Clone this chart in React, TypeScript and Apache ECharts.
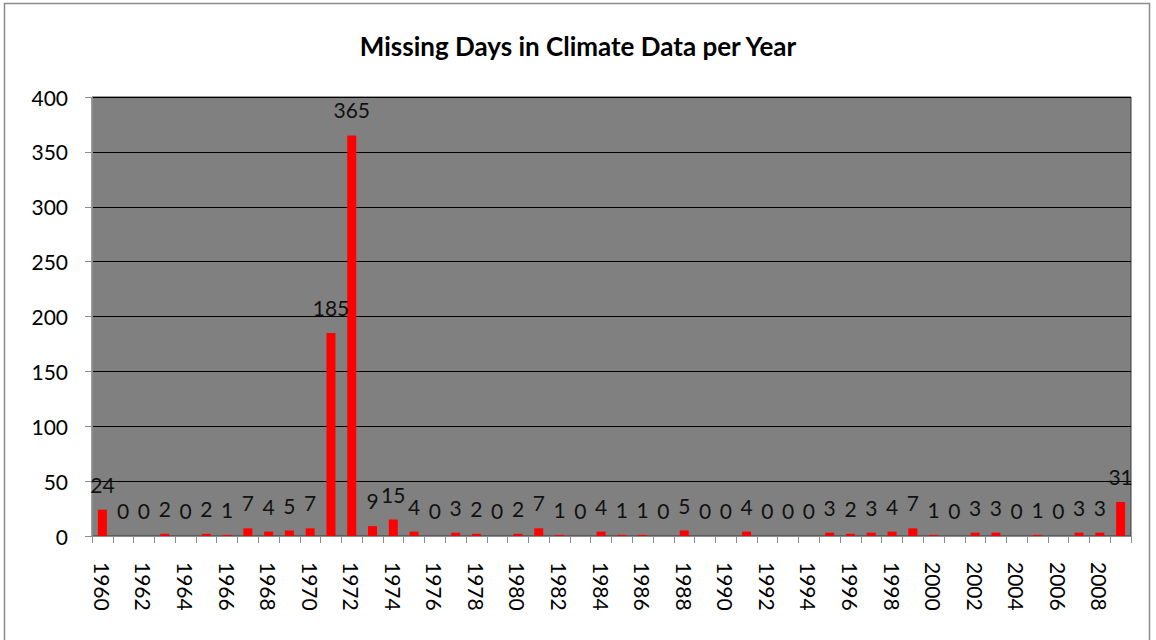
import React, { useEffect, useRef } from "react";
import * as echarts from "echarts";

const years: string[] = [];
for (let y = 1960; y <= 2009; y++) years.push(String(y));

const missingDays = [
  24, 0, 0, 2, 0, 2, 1, 7, 4, 5,
  7, 185, 365, 9, 15, 4, 0, 3, 2, 0,
  2, 7, 1, 0, 4, 1, 1, 0, 5, 0,
  0, 4, 0, 0, 0, 3, 2, 3, 4, 7,
  1, 0, 3, 3, 0, 1, 0, 3, 3, 31,
];

const title = "Missing Days in Climate Data per Year";
const FONT = "Lato, 'Open Sans', sans-serif";

export default function App() {
  const ref = useRef<HTMLDivElement>(null);
  useEffect(() => {
    if (!ref.current) return;
    const chart = echarts.init(ref.current, null, { renderer: "svg" });
    chart.setOption({
      animation: false,
      backgroundColor: "#ffffff",
      title: {
        text: title,
        left: "center",
        top: 28,
        textStyle: { fontFamily: FONT, fontSize: 26, fontWeight: "bold", color: "#000" },
      },
      graphic: [
        {
          type: "rect",
          shape: { x: 4.5, y: 3.5, width: 1145, height: 650 },
          style: { fill: "none", stroke: "#8c8c8c", lineWidth: 1.5 },
          silent: true,
        },
      ],
      grid: {
        left: 92,
        right: 25,
        top: 97,
        bottom: 104,
        show: true,
        backgroundColor: "#808080",
        borderColor: "#3a3a3a",
        borderWidth: 1,
      },
      xAxis: {
        type: "category",
        data: years,
        boundaryGap: true,
        axisLine: { show: true, lineStyle: { color: "#8c8c8c", width: 1 } },
        axisTick: { show: true, alignWithLabel: false, interval: 0, length: 7, lineStyle: { color: "#8c8c8c" } },
        axisLabel: {
          interval: 1,
          rotate: -90,
          margin: 26,
          fontFamily: FONT,
          fontSize: 21,
          color: "#000",
        },
      },
      yAxis: {
        type: "value",
        min: 0,
        max: 400,
        interval: 50,
        axisLine: { show: true, lineStyle: { color: "#8c8c8c" } },
        axisTick: { show: true, length: 7, lineStyle: { color: "#8c8c8c" } },
        axisLabel: { fontFamily: FONT, fontSize: 21, color: "#000", margin: 24 },
        splitLine: { show: true, lineStyle: { color: "#000", width: 1 } },
      },
      series: [
        {
          type: "bar",
          data: missingDays,
          barWidth: 9,
          itemStyle: { color: "#ff0000" },
          label: {
            show: true,
            position: "top",
            distance: 15,
            fontFamily: FONT,
            fontSize: 21,
            color: "#111",
          },
        },
      ],
    });
    return () => chart.dispose();
  }, []);
  return (
    <div
      ref={ref}
      style={{ position: "fixed", left: 0, top: 0, width: 1156, height: 640 }}
    />
  );
}
